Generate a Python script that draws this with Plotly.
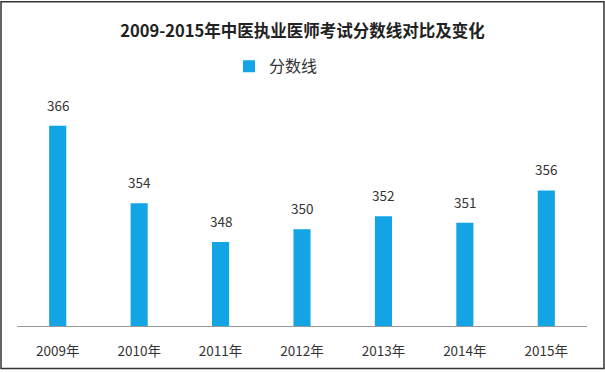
import plotly.graph_objects as go

years = ["2009年", "2010年", "2011年", "2012年", "2013年", "2014年", "2015年"]
scores = [366, 354, 348, 350, 352, 351, 356]
series_name = "分数线"
title = "2009-2015年中医执业医师考试分数线对比及变化"

W, H = 605, 372
ml, mr, mt, mb = 17, 18, 100, 44

fig = go.Figure()
fig.add_trace(go.Bar(
    x=years, y=scores, name=series_name,
    marker=dict(color="#12A4E4", line=dict(width=0)),
))
for yr, v in zip(years, scores):
    fig.add_annotation(x=yr, y=v, text=str(v), showarrow=False, yanchor="bottom", yshift=9,
                       font=dict(size=13.5, color="#333333", family="Noto Sans CJK SC"))

pw = W - ml - mr
ph = H - mt - mb
fig.update_layout(
    width=W, height=H,
    margin=dict(l=ml, r=mr, t=mt, b=mb),
    paper_bgcolor="white", plot_bgcolor="white",
    bargap=0.79,
    title=dict(text="<b>" + title + "</b>", x=0.5, xanchor="center", y=1 - 31 / H, yanchor="middle",
               font=dict(size=16.5, color="#222222", family="Noto Sans CJK SC")),
    showlegend=True,
    legend=dict(orientation="h", x=(229 - ml) / pw, xanchor="left", y=1 + (mt - 66) / ph, yanchor="middle",
                font=dict(size=16, color="#333333", family="Noto Sans CJK SC"),
                itemwidth=30, bgcolor="rgba(0,0,0,0)"),
    xaxis=dict(showline=True, linecolor="#999999", linewidth=1.2, ticks="", showgrid=False,
               ticklabelstandoff=13,
               tickfont=dict(size=13.5, color="#333333", family="Noto Sans CJK SC")),
    yaxis=dict(range=[335, 370], visible=False, showgrid=False, zeroline=False),
    font=dict(family="Noto Sans CJK SC"),
    shapes=[dict(type="rect", xref="paper", yref="paper",
                 x0=-(ml - 1) / pw, x1=1 + (mr - 1) / pw,
                 y0=-(mb - 1) / ph, y1=1 + (mt - 1) / ph,
                 line=dict(color="#333333", width=1.5))],
)
fig.write_html("out.html", config={"displayModeBar": False},
               post_script="document.body.style.margin='0';document.body.style.padding='0';document.body.style.overflow='hidden';")
